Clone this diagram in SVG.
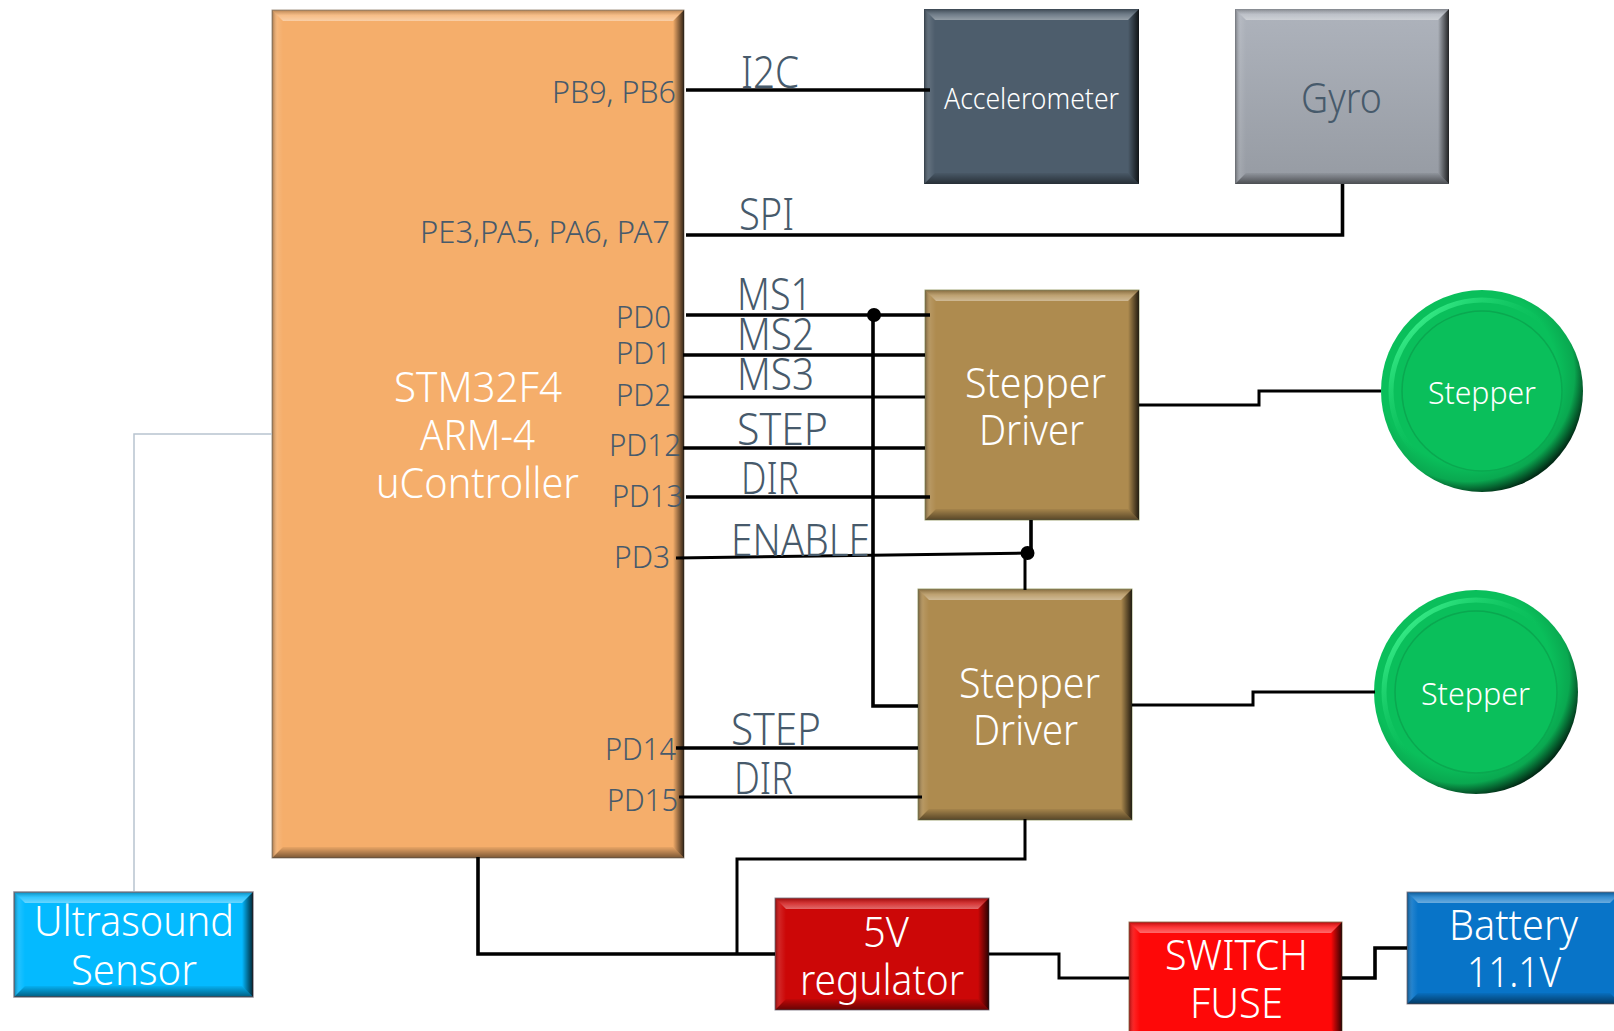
<svg xmlns="http://www.w3.org/2000/svg" width="1614" height="1031" viewBox="0 0 1614 1031">
<style>
text{font-family:"Noto Sans","Open Sans","Liberation Sans",sans-serif;font-weight:300;text-anchor:start}
.w{fill:#fff}
.d{fill:#475a6b}
.p{font-size:32px}
.s{font-size:42px}
.l{font-size:44px}
.t{fill:url(#gt)}.r{fill:url(#gr)}.b{fill:url(#gb)}.e{fill:url(#gl)}
.c{fill:none;stroke:#000;stroke-width:3.6}
.n{fill:none;stroke:#000;stroke-width:3}
.edge{fill:none;stroke-width:1.5}
</style>
<defs>
<linearGradient id="gt" x1="0" y1="0" x2="0" y2="1"><stop offset="0" stop-color="#000" stop-opacity=".25"/><stop offset=".5" stop-color="#fff" stop-opacity=".2"/><stop offset="1" stop-color="#fff" stop-opacity=".4"/></linearGradient>
<linearGradient id="gr" x1="0" y1="0" x2="1" y2="0"><stop offset="0" stop-color="#000" stop-opacity="0"/><stop offset="1" stop-color="#000" stop-opacity=".8"/></linearGradient>
<linearGradient id="gb" x1="0" y1="0" x2="0" y2="1"><stop offset="0" stop-color="#000" stop-opacity=".05"/><stop offset="1" stop-color="#000" stop-opacity=".5"/></linearGradient>
<linearGradient id="gl" x1="0" y1="0" x2="1" y2="0"><stop offset="0" stop-color="#000" stop-opacity=".35"/><stop offset=".5" stop-color="#fff" stop-opacity=".1"/><stop offset="1" stop-color="#fff" stop-opacity="0"/></linearGradient>
<radialGradient id="disc" cx=".43" cy=".42" r=".6"><stop offset=".74" stop-color="#0abf5b"/><stop offset=".88" stop-color="#0aa850"/><stop offset="1" stop-color="#022c16"/></radialGradient>
<linearGradient id="arc" x1="0" y1="0" x2="1" y2="1"><stop offset=".1" stop-color="#3cf08c"/><stop offset=".5" stop-color="#0abf5b" stop-opacity="0"/></linearGradient>
<linearGradient id="gy" x1="0" y1="0" x2="0" y2="1"><stop offset="0" stop-color="#aeb3bc"/><stop offset="1" stop-color="#969ba3"/></linearGradient>
</defs>

<g id="mcu">
<rect x="272" y="10" width="412" height="848" fill="#f5ae6b" stroke="#a89a8a" stroke-width="1"/>
<polygon class="t" points="272,10 684,10 673,21 283,21"/><polygon class="r" points="684,10 684,858 673,847 673,21"/><polygon class="b" points="272,858 684,858 673,847 283,847"/><polygon class="e" points="272,10 272,858 283,847 283,21"/>
<text class="w s" x="394" y="402" textLength="168" lengthAdjust="spacingAndGlyphs">STM32F4</text>
<text class="w s" x="420" y="450" textLength="115" lengthAdjust="spacingAndGlyphs">ARM-4</text>
<text class="w s" x="376" y="498" textLength="203" lengthAdjust="spacingAndGlyphs">uController</text>
<text class="d p" x="552" y="103" textLength="124" lengthAdjust="spacingAndGlyphs">PB9, PB6</text>
<text class="d p" x="420" y="243" textLength="250" lengthAdjust="spacingAndGlyphs">PE3,PA5, PA6, PA7</text>
<text class="d p" x="616" y="328" textLength="55" lengthAdjust="spacingAndGlyphs">PD0</text>
<text class="d p" x="616" y="364" textLength="55" lengthAdjust="spacingAndGlyphs">PD1</text>
<text class="d p" x="616" y="406" textLength="55" lengthAdjust="spacingAndGlyphs">PD2</text>
<text class="d p" x="609" y="456" textLength="72" lengthAdjust="spacingAndGlyphs">PD12</text>
<text class="d p" x="612" y="507" textLength="71" lengthAdjust="spacingAndGlyphs">PD13</text>
<text class="d p" x="614" y="568" textLength="56" lengthAdjust="spacingAndGlyphs">PD3</text>
<text class="d p" x="605" y="760" textLength="71" lengthAdjust="spacingAndGlyphs">PD14</text>
<text class="d p" x="607" y="811" textLength="71" lengthAdjust="spacingAndGlyphs">PD15</text>
</g>

<g id="accelerometer">
<rect x="924" y="9" width="215" height="175" fill="#4d5d6c"/>
<polygon class="t" points="924,9 1139,9 1128,20 935,20"/><polygon class="r" points="1139,9 1139,184 1128,173 1128,20"/><polygon class="b" points="924,184 1139,184 1128,173 935,173"/><polygon class="e" points="924,9 924,184 935,173 935,20"/>
<text class="w" font-size="29" x="944" y="109" textLength="175" lengthAdjust="spacingAndGlyphs">Accelerometer</text>
</g>

<g id="gyro">
<rect x="1235" y="9" width="214" height="175" fill="url(#gy)"/>
<polygon class="t" points="1235,9 1449,9 1438,20 1246,20"/><polygon class="r" points="1449,9 1449,184 1438,173 1438,20"/><polygon class="b" points="1235,184 1449,184 1438,173 1246,173"/><polygon class="e" points="1235,9 1235,184 1246,173 1246,20"/>
<text class="d" font-size="42" x="1301" y="113" textLength="81" lengthAdjust="spacingAndGlyphs">Gyro</text>
</g>

<g id="driver1">
<rect x="925" y="290" width="214" height="230" fill="#ae8b4f" stroke="#a3a878" stroke-width="1"/>
<polygon class="t" points="925,290 1139,290 1128,301 936,301"/><polygon class="r" points="1139,290 1139,520 1128,509 1128,301"/><polygon class="b" points="925,520 1139,520 1128,509 936,509"/><polygon class="e" points="925,290 925,520 936,509 936,301"/>
<text class="w s" x="965" y="398" textLength="141" lengthAdjust="spacingAndGlyphs">Stepper</text>
<text class="w s" x="979" y="445" textLength="105" lengthAdjust="spacingAndGlyphs">Driver</text>
</g>

<g id="driver2">
<rect x="918" y="589" width="214" height="231" fill="#ae8b4f" stroke="#a3a878" stroke-width="1"/>
<polygon class="t" points="918,589 1132,589 1121,600 929,600"/><polygon class="r" points="1132,589 1132,820 1121,809 1121,600"/><polygon class="b" points="918,820 1132,820 1121,809 929,809"/><polygon class="e" points="918,589 918,820 929,809 929,600"/>
<text class="w s" x="959" y="698" textLength="141" lengthAdjust="spacingAndGlyphs">Stepper</text>
<text class="w s" x="973" y="745" textLength="105" lengthAdjust="spacingAndGlyphs">Driver</text>
</g>

<g id="stepper1">
<circle cx="1482" cy="391" r="101" fill="url(#disc)"/>
<circle cx="1482" cy="391" r="91" fill="none" stroke="url(#arc)" stroke-width="5"/>
<circle cx="1482" cy="391" r="80" fill="#0abf5b" stroke="#0aa850" stroke-width="1.5"/>
<text class="w" font-size="32" x="1428" y="404" textLength="108" lengthAdjust="spacingAndGlyphs">Stepper</text>
</g>

<g id="stepper2">
<circle cx="1476" cy="692" r="102" fill="url(#disc)"/>
<circle cx="1476" cy="692" r="92" fill="none" stroke="url(#arc)" stroke-width="5"/>
<circle cx="1476" cy="692" r="81" fill="#0abf5b" stroke="#0aa850" stroke-width="1.5"/>
<text class="w" font-size="32" x="1421" y="705" textLength="109" lengthAdjust="spacingAndGlyphs">Stepper</text>
</g>

<g id="ultrasound">
<rect x="14" y="892" width="239" height="105" fill="#04baff" stroke="#8f8a96" stroke-width="1.5"/>
<polygon class="t" points="14,892 253,892 242,903 25,903"/><polygon class="r" points="253,892 253,997 242,986 242,903"/><polygon class="b" points="14,997 253,997 242,986 25,986"/><polygon class="e" points="14,892 14,997 25,986 25,903"/>
<text class="w s" x="34" y="936" textLength="200" lengthAdjust="spacingAndGlyphs">Ultrasound</text>
<text class="w s" x="71" y="985" textLength="126" lengthAdjust="spacingAndGlyphs">Sensor</text>
</g>

<g id="regulator">
<rect x="775" y="898" width="214" height="112" fill="#cc0707" stroke="#8f8a96" stroke-width="1"/>
<polygon class="t" points="775,898 989,898 978,909 786,909"/><polygon class="r" points="989,898 989,1010 978,999 978,909"/><polygon class="b" points="775,1010 989,1010 978,999 786,999"/><polygon class="e" points="775,898 775,1010 786,999 786,909"/>
<text class="w s" x="863" y="947" textLength="46" lengthAdjust="spacingAndGlyphs">5V</text>
<text class="w s" x="800" y="995" textLength="164" lengthAdjust="spacingAndGlyphs">regulator</text>
</g>

<g id="switch">
<rect x="1129" y="922" width="213" height="118" fill="#fe0808" stroke="#a08060" stroke-width="1"/>
<polygon class="t" points="1129,922 1342,922 1331,933 1140,933"/><polygon class="r" points="1342,922 1342,1040 1331,1029 1331,933"/><polygon class="e" points="1129,922 1129,1040 1140,1029 1140,933"/>
<text class="w s" x="1165" y="970" textLength="143" lengthAdjust="spacingAndGlyphs">SWITCH</text>
<text class="w s" x="1190" y="1018" textLength="93" lengthAdjust="spacingAndGlyphs">FUSE</text>
</g>

<g id="battery">
<rect x="1407" y="892" width="214" height="112" fill="#0874c8" stroke="#8f8a96" stroke-width="1"/>
<polygon class="t" points="1407,892 1621,892 1610,903 1418,903"/><polygon class="b" points="1407,1004 1621,1004 1610,993 1418,993"/><polygon class="e" points="1407,892 1407,1004 1418,993 1418,903"/>
<text class="w s" x="1449" y="940" textLength="129" lengthAdjust="spacingAndGlyphs">Battery</text>
<text class="w s" x="1467" y="987" textLength="94" lengthAdjust="spacingAndGlyphs">11.1V</text>
</g>

<g id="connectors">
<path class="c" d="M686 90H930"/>
<path class="c" d="M686 235H1342.500V184"/>
<path class="c" d="M686 315H930"/>
<path class="c" d="M873 315V706H918"/>
<circle cx="874" cy="315" r="7"/>
<path class="c" d="M683 355H925"/>
<path class="n" d="M683 397H925"/>
<path class="c" d="M683 448H925"/>
<path class="c" d="M686 497H930"/>
<path class="n" d="M676 558L1027 553"/>
<path class="c" d="M1031 520V553"/>
<path class="n" d="M1025 553V590"/>
<circle cx="1027.500" cy="553" r="7"/>
<path class="c" d="M676 748H918"/>
<path class="n" d="M679 797H922"/>
<path class="n" d="M1139 405H1259V391H1381"/>
<path class="n" d="M1132 705H1253V692H1375"/>
<path class="c" d="M478 857V954H775"/>
<path class="n" d="M737 954V859H1025V819"/>
<path class="n" d="M989 954H1059V978H1129"/>
<path class="c" d="M1342 978H1375V948H1407"/>
<path class="edge" stroke="#b8c4d0" d="M272 434H134V891"/>
</g>

<g id="labels">
<text class="d l" x="741" y="88" textLength="58" lengthAdjust="spacingAndGlyphs">I2C</text>
<text class="d l" x="739" y="230" textLength="55" lengthAdjust="spacingAndGlyphs">SPI</text>
<text class="d l" x="737" y="310" textLength="75" lengthAdjust="spacingAndGlyphs">MS1</text>
<text class="d l" x="737" y="350" textLength="77" lengthAdjust="spacingAndGlyphs">MS2</text>
<text class="d l" x="737" y="390" textLength="77" lengthAdjust="spacingAndGlyphs">MS3</text>
<text class="d l" x="737" y="445" textLength="91" lengthAdjust="spacingAndGlyphs">STEP</text>
<text class="d l" x="741" y="494" textLength="58" lengthAdjust="spacingAndGlyphs">DIR</text>
<text class="d l" x="731" y="556" textLength="139" lengthAdjust="spacingAndGlyphs">ENABLE</text>
<text class="d l" x="731" y="745" textLength="90" lengthAdjust="spacingAndGlyphs">STEP</text>
<text class="d l" x="734" y="794" textLength="59" lengthAdjust="spacingAndGlyphs">DIR</text>
</g>
</svg>
